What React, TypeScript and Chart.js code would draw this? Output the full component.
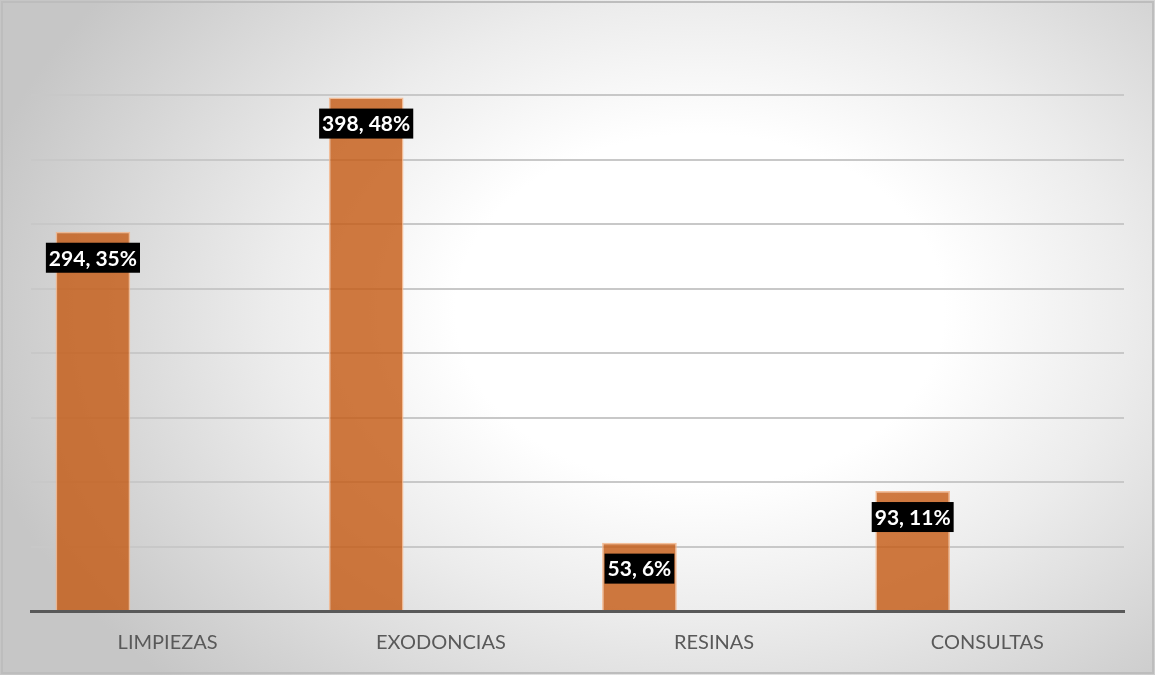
import React, { useEffect, useRef } from "react";
import { Chart, registerables } from "chart.js";

Chart.register(...registerables);

const categories = ["LIMPIEZAS", "EXODONCIAS", "RESINAS", "CONSULTAS"];
const values = [294, 398, 53, 93];
const percents = ["35%", "48%", "6%", "11%"];
const yTicks = [0, 50, 100, 150, 200, 250, 300, 350, 400];

const bgPlugin = {
  id: "bgPlugin",
  beforeDraw(chart: any) {
    const ctx = chart.ctx;
    const w = chart.width;
    const h = chart.height;
    ctx.save();
    ctx.fillStyle = "#c6c6c6";
    ctx.fillRect(0, 0, w, h);
    ctx.translate(700, 310);
    ctx.scale(1, 0.72);
    const g = ctx.createRadialGradient(0, 0, 0, 0, 0, 740);
    g.addColorStop(0, "#ffffff");
    g.addColorStop(0.33, "#ffffff");
    g.addColorStop(0.58, "#ececec");
    g.addColorStop(1, "#c6c6c6");
    ctx.fillStyle = g;
    ctx.fillRect(-1000, -1000, 2000, 2000);
    ctx.restore();
    ctx.save();
    ctx.strokeStyle = "#bdbdbd";
    ctx.lineWidth = 2;
    ctx.strokeRect(2, 2, w - 4, h - 4);
    ctx.restore();
  },
};

const labelPlugin = {
  id: "labelPlugin",
  afterDatasetsDraw(chart: any) {
    const ctx = chart.ctx;
    const meta = chart.getDatasetMeta(0);
    ctx.save();
    ctx.font = "bold 21px Lato, 'Open Sans', sans-serif";
    ctx.textBaseline = "middle";
    ctx.textAlign = "center";
    meta.data.forEach((bar: any, i: number) => {
      const text = values[i] + ", " + percents[i];
      const tw = ctx.measureText(text).width;
      const bw = tw + 6;
      const bh = 30;
      const top = bar.y + 11;
      ctx.fillStyle = "#000000";
      ctx.fillRect(bar.x - bw / 2, top, bw, bh);
      ctx.fillStyle = "#ffffff";
      ctx.fillText(text, bar.x, top + bh / 2 + 1);
    });
    ctx.restore();
  },
};

export default function App() {
  const ref = useRef<HTMLCanvasElement>(null);
  useEffect(() => {
    document.body.style.margin = "0";
    const chart = new Chart(ref.current!, {
      type: "bar",
      data: {
        labels: categories,
        datasets: [
          {
            data: values,
            backgroundColor: "rgba(196,89,17,0.8)",
            borderColor: "rgba(244,177,131,0.8)",
            borderWidth: 1.5,
            barPercentage: 1.0,
            categoryPercentage: 0.82,
          },
          { data: [null, null, null, null], barPercentage: 1.0, categoryPercentage: 0.82 },
          { data: [null, null, null, null], barPercentage: 1.0, categoryPercentage: 0.82 },
        ],
      },
      options: {
        animation: false,
        responsive: false,
        layout: { padding: { left: 31, right: 31, top: 95, bottom: 0 } },
        plugins: { legend: { display: false }, tooltip: { enabled: false } },
        scales: {
          x: {
            grid: { display: false, drawTicks: false },
            border: { display: true, color: "#595959", width: 3 },
            ticks: {
              color: "#595959",
              font: { family: "Lato, 'Open Sans', sans-serif", size: 20 },
              padding: 20,
            },
          },
          y: {
            min: 0,
            max: 400,
            afterBuildTicks: (axis: any) => {
              axis.ticks = yTicks.map((v) => ({ value: v }));
            },
            ticks: { display: false },
            border: { display: false },
            grid: {
              color: "#c8c8c8",
              lineWidth: 2,
              drawTicks: false,
            },
          },
        },
      },
      plugins: [bgPlugin, labelPlugin],
    });
    return () => chart.destroy();
  }, []);
  return (
    <div style={{ width: 1155, height: 675 }}>
      <canvas ref={ref} width={1155} height={675} />
    </div>
  );
}
